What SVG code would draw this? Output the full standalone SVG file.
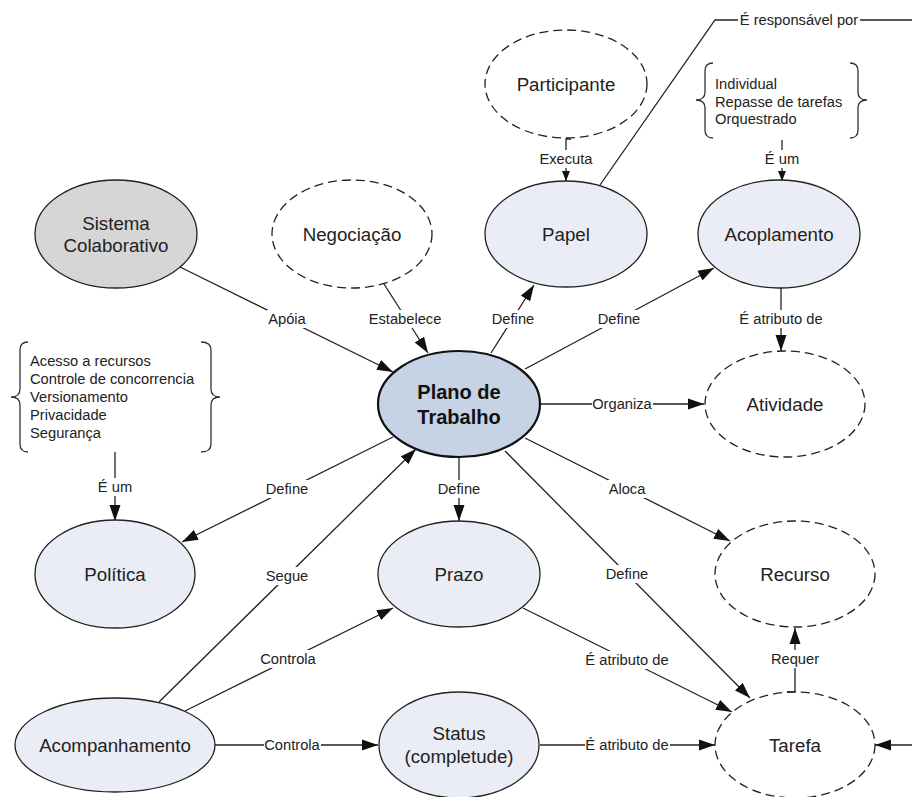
<svg xmlns="http://www.w3.org/2000/svg" width="912" height="797" viewBox="0 0 912 797">
  <style>
    .node { fill: #eaedf5; stroke: #222; stroke-width: 1.3; }
    .dash { fill: #ffffff; stroke: #222; stroke-width: 1.3; stroke-dasharray: 9 5; }
    .gray { fill: #d6d6d6; stroke: #222; stroke-width: 1.3; }
    .main { fill: #c6d3e4; stroke: #111; stroke-width: 2.2; }
    .nt { font-family: "Liberation Sans", Arial, sans-serif; font-size: 18.7px; fill: #222; text-anchor: middle; }
    .bt { font-family: "Liberation Sans", Arial, sans-serif; font-size: 20px; font-weight: bold; fill: #111; text-anchor: middle; }
    .lt { font-family: "Liberation Sans", Arial, sans-serif; font-size: 14.7px; fill: #222; text-anchor: middle; }
    .st { font-family: "Liberation Sans", Arial, sans-serif; font-size: 14.7px; fill: #222; }
    .ln { fill: none; stroke: #222; stroke-width: 1.3; }
    .big { marker-end: url(#arrow); }
    .sml { marker-end: url(#arrowS); }
    .bg { fill: #ffffff; }
    .brace { fill: none; stroke: #333; stroke-width: 1.3; }
  </style>
  <defs>
    <marker id="arrow" markerUnits="userSpaceOnUse" markerWidth="17" markerHeight="12" refX="16" refY="6" orient="auto">
      <path d="M0,0.5 L16,6 L0,11.5 z" fill="#111"/>
    </marker>
    <marker id="arrowS" markerUnits="userSpaceOnUse" markerWidth="11" markerHeight="9" refX="10" refY="4.5" orient="auto">
      <path d="M0,0.5 L10,4.5 L0,8.5 z" fill="#111"/>
    </marker>
  </defs>

  <rect width="912" height="797" fill="#ffffff"/>

  <!-- connectors -->
  <g id="connectors">
    <path class="ln big" d="M180,267 L393,372"/>
    <path class="ln big" d="M384,284 L428,353"/>
    <path class="ln big" d="M491,353 L534,285"/>
    <path class="ln big" d="M525,369 L714,268"/>
    <path class="ln big" d="M540,404 L704,404"/>
    <path class="ln big" d="M525,438 L730,541"/>
    <path class="ln big" d="M505,451 L750,698"/>
    <path class="ln big" d="M459,458 L459,521"/>
    <path class="ln big" d="M393,437 L182,542"/>
    <path class="ln big" d="M159,702 L416,449"/>
    <path class="ln big" d="M185,711 L393,608"/>
    <path class="ln big" d="M215,745 L378,745"/>
    <path class="ln big" d="M523,608 L732,712"/>
    <path class="ln big" d="M540,745 L715,745"/>
    <path class="ln big" d="M787,692 L795,692 L795,628"/>
    <path class="ln big" d="M912,745 L875,745"/>
    <path class="ln sml" d="M571,139 L566,139 L566,181"/>
    <path class="ln sml" d="M782,140 L782,181"/>
    <path class="ln big" d="M115,452 L115,521"/>
    <path class="ln big" d="M781,288 L781,351"/>
    <path class="ln" d="M600,185 L715,20 L912,20"/>

    <!-- connector labels, each on a white patch that breaks the line -->
    <rect class="bg" x="267" y="310" width="40" height="18"/>
    <text class="lt" x="287" y="324.3">Apóia</text>
    <rect class="bg" x="368" y="310" width="75" height="18"/>
    <text class="lt" x="405" y="324.3">Estabelece</text>
    <rect class="bg" x="491" y="310" width="45" height="18"/>
    <text class="lt" x="513" y="324.3">Define</text>
    <rect class="bg" x="597" y="310" width="45" height="18"/>
    <text class="lt" x="619" y="324.3">Define</text>
    <rect class="bg" x="739" y="310" width="86" height="18"/>
    <text class="lt" x="781" y="324.3">É atributo de</text>
    <rect class="bg" x="592" y="395" width="61" height="18"/>
    <text class="lt" x="622" y="409.3">Organiza</text>
    <rect class="bg" x="265" y="480" width="45" height="18"/>
    <text class="lt" x="287" y="494.3">Define</text>
    <rect class="bg" x="437" y="480" width="45" height="18"/>
    <text class="lt" x="459" y="494.3">Define</text>
    <rect class="bg" x="608" y="480" width="39" height="18"/>
    <text class="lt" x="627" y="494.3">Aloca</text>
    <rect class="bg" x="97" y="478" width="37" height="18"/>
    <text class="lt" x="115" y="492.3">É um</text>
    <rect class="bg" x="265" y="567" width="45" height="18"/>
    <text class="lt" x="287" y="581.3">Segue</text>
    <rect class="bg" x="605" y="565" width="45" height="18"/>
    <text class="lt" x="627" y="579.3">Define</text>
    <rect class="bg" x="260" y="650" width="58" height="18"/>
    <text class="lt" x="288" y="664.3">Controla</text>
    <rect class="bg" x="585" y="651" width="86" height="18"/>
    <text class="lt" x="627" y="665.3">É atributo de</text>
    <rect class="bg" x="770" y="650" width="50" height="18"/>
    <text class="lt" x="795" y="664.3">Requer</text>
    <rect class="bg" x="264" y="736" width="57" height="18"/>
    <text class="lt" x="292" y="750.3">Controla</text>
    <rect class="bg" x="585" y="736" width="85" height="18"/>
    <text class="lt" x="627" y="750.3">É atributo de</text>
    <rect class="bg" x="539" y="150" width="55" height="18"/>
    <text class="lt" x="566" y="164.3">Executa</text>
    <rect class="bg" x="764" y="150" width="36" height="18"/>
    <text class="lt" x="782" y="164.3">É um</text>
    <rect class="bg" x="738" y="11" width="122" height="18"/>
    <text class="lt" x="799" y="25.3">É responsável por</text>
  </g>

  <!-- nodes -->
  <g id="sistema-colaborativo">
    <ellipse class="gray" cx="116" cy="234" rx="81" ry="54"/>
    <text class="nt" x="116" y="230">Sistema</text>
    <text class="nt" x="116" y="252">Colaborativo</text>
  </g>
  <g id="negociacao">
    <ellipse class="dash" cx="352" cy="234" rx="80" ry="54"/>
    <text class="nt" x="352" y="241">Negociação</text>
  </g>
  <g id="participante">
    <ellipse class="dash" cx="566" cy="84" rx="81" ry="54"/>
    <text class="nt" x="566" y="91">Participante</text>
  </g>
  <g id="papel">
    <ellipse class="node" cx="566" cy="234" rx="81" ry="53"/>
    <text class="nt" x="566" y="240.7">Papel</text>
  </g>
  <g id="acoplamento">
    <ellipse class="node" cx="779" cy="234" rx="81" ry="54"/>
    <text class="nt" x="779" y="240.7">Acoplamento</text>
  </g>
  <g id="plano-de-trabalho">
    <ellipse class="main" cx="459" cy="404" rx="81" ry="53"/>
    <text class="bt" x="459" y="399">Plano de</text>
    <text class="bt" x="459" y="424">Trabalho</text>
  </g>
  <g id="atividade">
    <ellipse class="dash" cx="785" cy="404" rx="80" ry="53"/>
    <text class="nt" x="785" y="410.7">Atividade</text>
  </g>
  <g id="politica">
    <ellipse class="node" cx="115" cy="574" rx="80" ry="54"/>
    <text class="nt" x="115" y="580.7">Política</text>
  </g>
  <g id="prazo">
    <ellipse class="node" cx="459" cy="574" rx="81" ry="53"/>
    <text class="nt" x="459" y="580.7">Prazo</text>
  </g>
  <g id="recurso">
    <ellipse class="dash" cx="795" cy="574" rx="80" ry="53"/>
    <text class="nt" x="795" y="580.7">Recurso</text>
  </g>
  <g id="acompanhamento">
    <ellipse class="node" cx="115" cy="745" rx="100" ry="47"/>
    <text class="nt" x="115" y="751.7">Acompanhamento</text>
  </g>
  <g id="status">
    <ellipse class="node" cx="459" cy="745" rx="80" ry="53"/>
    <text class="nt" x="459" y="739.5">Status</text>
    <text class="nt" x="459" y="762.5">(completude)</text>
  </g>
  <g id="tarefa">
    <ellipse class="dash" cx="795" cy="745" rx="80" ry="53"/>
    <text class="nt" x="795" y="751.7">Tarefa</text>
  </g>

  <!-- bracketed value lists -->
  <g id="tipos-politica">
    <path class="brace" d="M28,342 Q20,342 20,350 L20,389 Q20,397 11,397 Q20,397 20,405 L20,444 Q20,452 28,452"/>
    <path class="brace" d="M201,342 Q211,342 211,350 L211,389 Q211,397 220,397 Q211,397 211,405 L211,444 Q211,452 201,452"/>
    <text class="st" x="30" y="366">Acesso a recursos</text>
    <text class="st" x="30" y="384">Controle de concorrencia</text>
    <text class="st" x="30" y="402">Versionamento</text>
    <text class="st" x="30" y="420">Privacidade</text>
    <text class="st" x="30" y="438">Segurança</text>
  </g>
  <g id="tipos-acoplamento">
    <path class="brace" d="M713,63 Q705,63 705,71 L705,92 Q705,100 696,100 Q705,100 705,108 L705,130 Q705,138 713,138"/>
    <path class="brace" d="M850,63 Q858,63 858,71 L858,92 Q858,100 867,100 Q858,100 858,108 L858,130 Q858,138 850,138"/>
    <text class="st" x="715" y="88.5">Individual</text>
    <text class="st" x="715" y="106.5">Repasse de tarefas</text>
    <text class="st" x="715" y="124">Orquestrado</text>
  </g>
</svg>
